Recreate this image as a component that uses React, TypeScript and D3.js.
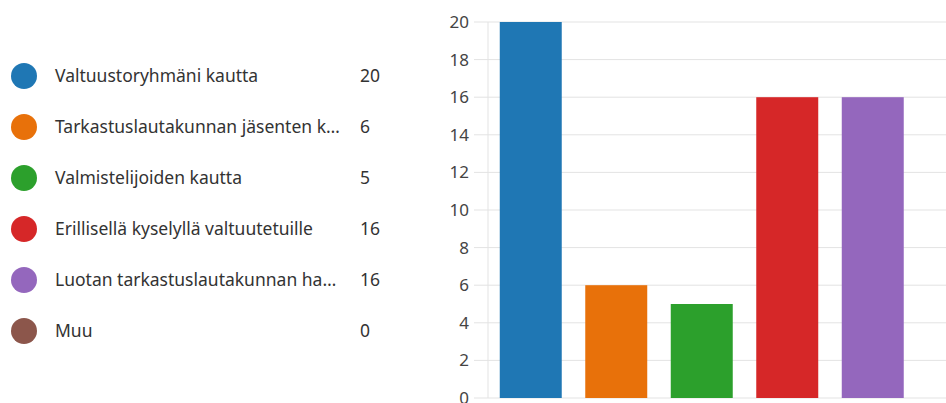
import React, { useEffect, useRef } from "react";
import * as d3 from "d3";

const categories = [
  "Valtuustoryhmäni kautta",
  "Tarkastuslautakunnan jäsenten k…",
  "Valmistelijoiden kautta",
  "Erillisellä kyselyllä valtuutetuille",
  "Luotan tarkastuslautakunnan ha…",
  "Muu",
];
const counts = [20, 6, 5, 16, 16, 0];
const colors = ["#1f77b4", "#e8710a", "#2ca02c", "#d62728", "#9467bd", "#8c564b"];
const yTicks = [0, 2, 4, 6, 8, 10, 12, 14, 16, 18, 20];

const App = () => {
  const ref = useRef<SVGSVGElement>(null);

  useEffect(() => {
    const svg = d3.select(ref.current);
    svg.selectAll("*").remove();

    const font = "'Noto Sans', 'Open Sans', sans-serif";
    const textColor = "#333";

    // legend
    const legendY = d3
      .scalePoint<number>()
      .domain(d3.range(categories.length))
      .range([76, 331]);

    const leg = svg
      .append("g")
      .selectAll("g")
      .data(categories)
      .join("g")
      .attr("transform", (d, i) => `translate(0,${legendY(i)})`);

    leg
      .append("circle")
      .attr("cx", 24)
      .attr("cy", 0)
      .attr("r", 13)
      .attr("fill", (d, i) => colors[i]);

    leg
      .append("text")
      .attr("x", 55)
      .attr("dy", "0.35em")
      .attr("font-family", font)
      .attr("font-size", 17.5)
      .attr("fill", textColor)
      .text((d) => d);

    leg
      .append("text")
      .attr("x", 360)
      .attr("dy", "0.35em")
      .attr("font-family", font)
      .attr("font-size", 17.5)
      .attr("fill", textColor)
      .text((d, i) => counts[i]);

    // bar chart
    const x = d3
      .scaleBand<number>()
      .domain(d3.range(categories.length))
      .range([488, 1001])
      .paddingInner(0.275)
      .paddingOuter(0.1375);

    const y = d3.scaleLinear().domain([0, 20]).range([398, 22]);

    // gridlines
    svg
      .append("g")
      .selectAll("line")
      .data(yTicks)
      .join("line")
      .attr("x1", 474)
      .attr("x2", 946)
      .attr("y1", (d) => y(d))
      .attr("y2", (d) => y(d))
      .attr("stroke", "#e3e3e3")
      .attr("stroke-width", 1);

    svg
      .append("line")
      .attr("x1", 488)
      .attr("x2", 488)
      .attr("y1", y(20))
      .attr("y2", y(0))
      .attr("stroke", "#e3e3e3");

    svg
      .append("g")
      .selectAll("text")
      .data(yTicks)
      .join("text")
      .attr("x", 469)
      .attr("y", (d) => y(d))
      .attr("dy", "0.35em")
      .attr("text-anchor", "end")
      .attr("font-family", font)
      .attr("font-size", 17)
      .attr("fill", "#444")
      .text((d) => d);

    svg
      .append("g")
      .selectAll("rect")
      .data(counts)
      .join("rect")
      .attr("x", (d, i) => x(i)!)
      .attr("width", x.bandwidth())
      .attr("y", (d) => y(d))
      .attr("height", (d) => y(0) - y(d))
      .attr("fill", (d, i) => colors[i]);
  }, []);

  return (
    <svg
      ref={ref}
      width={946}
      height={403}
      style={{ position: "absolute", left: 0, top: 0, background: "#fff" }}
    />
  );
};

export default App;
